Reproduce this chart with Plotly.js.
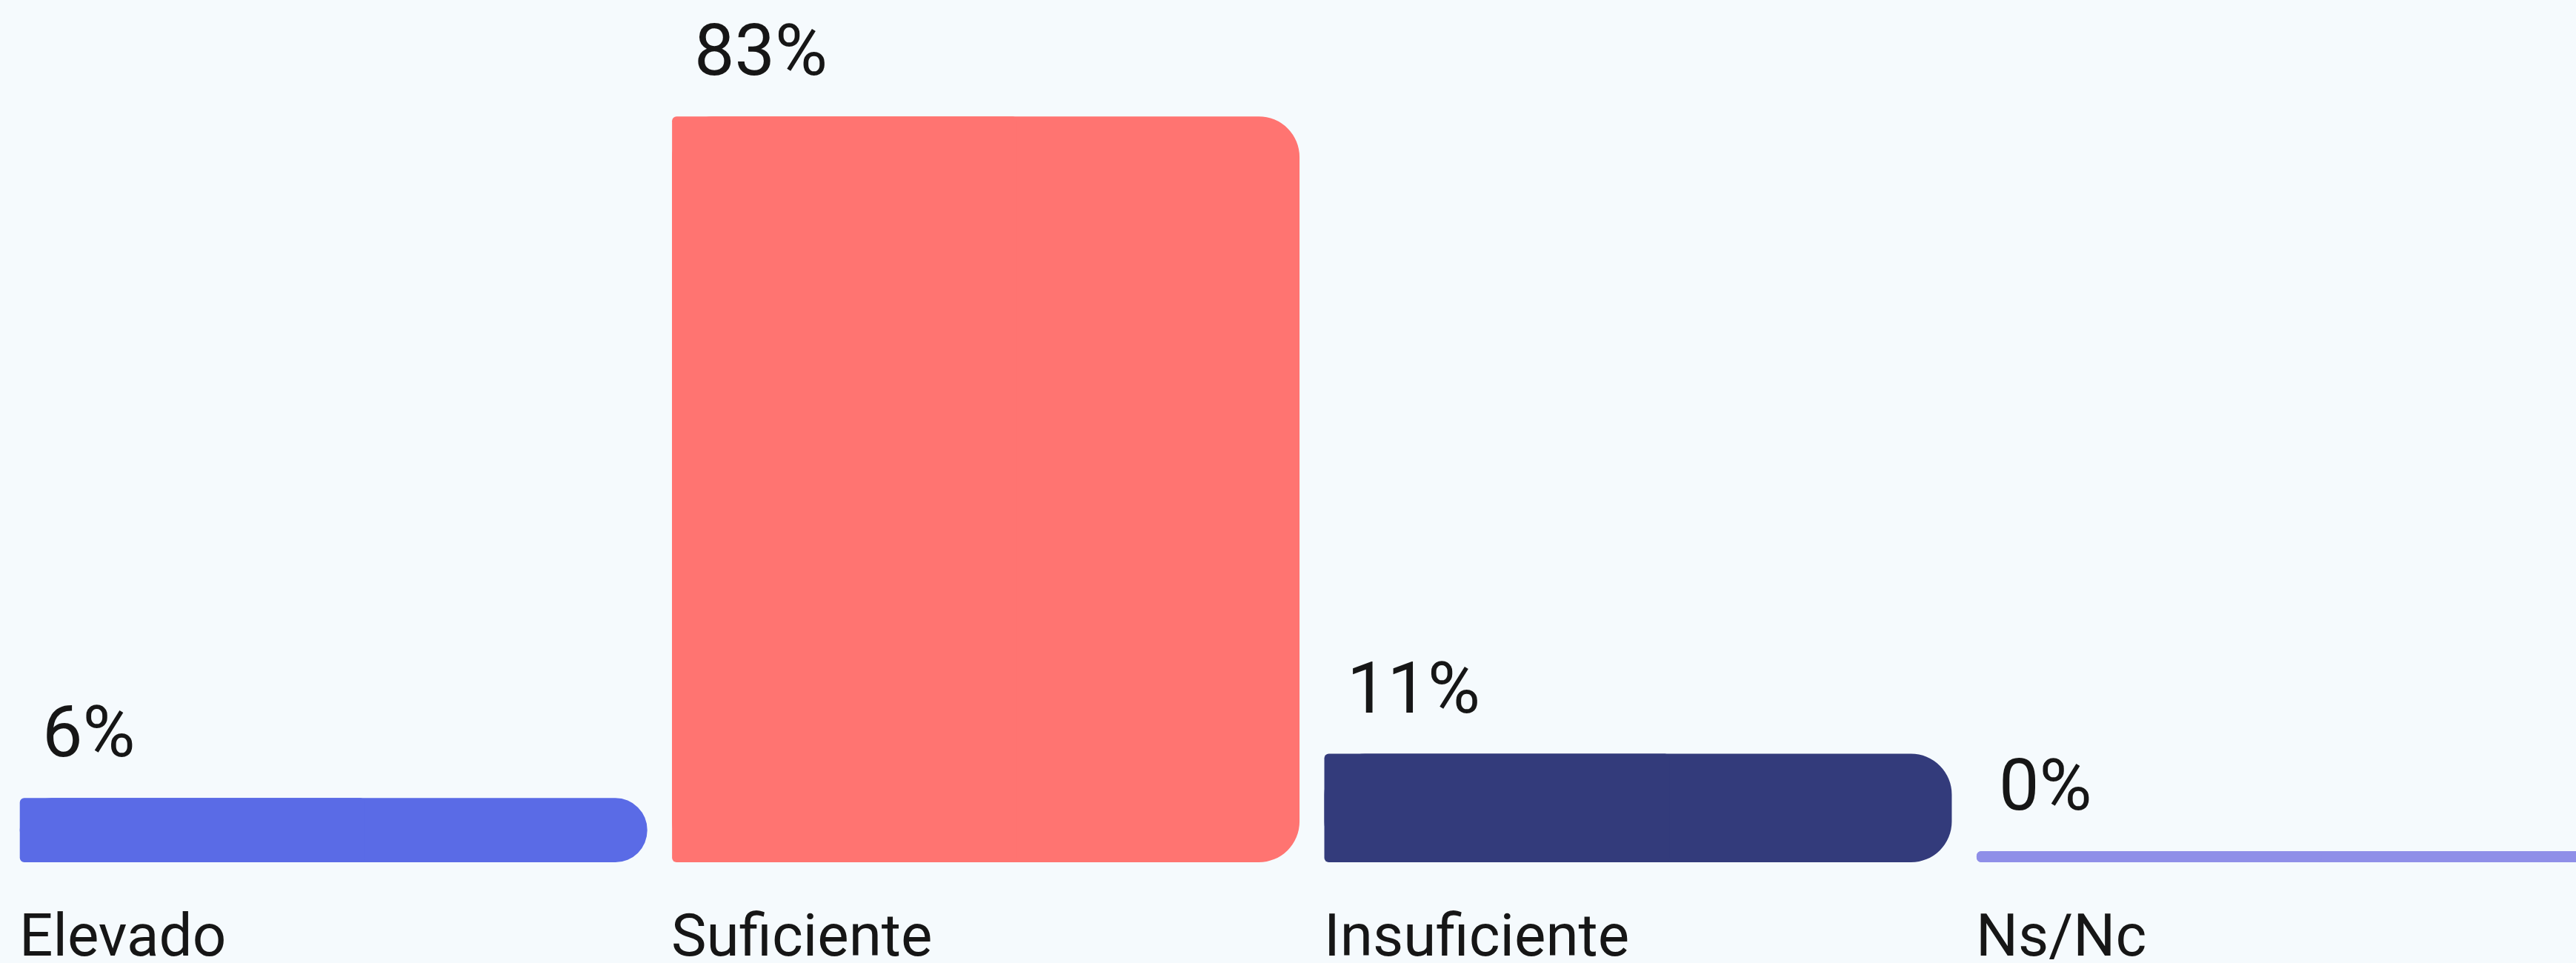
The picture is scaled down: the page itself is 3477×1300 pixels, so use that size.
<!DOCTYPE html>
<html><head><meta charset="utf-8">
<script src="https://cdn.plot.ly/plotly-3.0.1.min.js"></script>
<style>html,body{margin:0;padding:0;background:#F5FAFD;overflow:hidden;} #chart{width:3477px;height:1300px;}</style>
</head><body><div id="chart"></div>
<script>
// ---- data ----
const categories = ['Elevado', 'Suficiente', 'Insuficiente', 'Ns/Nc'];
const values = [6, 83, 11, 0];
const valueLabels = ['6%', '83%', '11%', '0%'];
const barColors = ['#5A6BE6', '#FF7471', '#333B7B', '#8F8FE8'];

// ---- layout settings ----
const W = 3477, H = 1300;
const margin = {l: 10, r: 0, t: 0, b: 136, pad: 0};
const xRange = [-0.5, 3.438];
const yBase = -1.255;          // small stub so that 0% bars remain visible
const yRange = [yBase, 96.15];
const barWidth = 0.962;
const pxPerCat = (W - margin.l - margin.r) / (xRange[1] - xRange[0]);
const halfBarPx = barWidth * pxPerCat / 2;
const FONT = 'Roboto, "Liberation Sans", sans-serif';
const TEXT = '#161616';

const common = {
  type: 'bar',
  x: categories,
  y: values.map(v => v - yBase),
  base: yBase,
  marker: {color: barColors, line: {width: 0}},
  hoverinfo: 'skip',
  showlegend: false
};
// full bar with a large rounded top (right corner visible)
const traceRound = Object.assign({}, common, {
  width: barWidth, offset: -barWidth / 2,
  marker: {color: barColors, line: {width: 0}, cornerradius: 55}
});
// left part of the bar with a nearly square top-left corner
const traceSquare = Object.assign({}, common, {
  width: barWidth * 0.55, offset: -barWidth / 2,
  marker: {color: barColors, line: {width: 0}, cornerradius: 6}
});

const annotations = [];
categories.forEach((c, i) => {
  annotations.push({
    x: c, xref: 'x', y: values[i], yref: 'y',
    text: valueLabels[i], showarrow: false,
    xanchor: 'left', yanchor: 'bottom',
    xshift: -halfBarPx + 28, yshift: 30,
    font: {family: FONT, size: 97, color: TEXT}
  });
  annotations.push({
    x: c, xref: 'x', y: 0, yref: 'paper',
    text: categories[i], showarrow: false,
    xanchor: 'left', yanchor: 'top',
    xshift: -halfBarPx - 3, yshift: -50,
    font: {family: FONT, size: 80, color: TEXT}
  });
});

const layout = {
  width: W, height: H,
  margin: margin,
  paper_bgcolor: '#F5FAFD',
  plot_bgcolor: '#F5FAFD',
  barmode: 'overlay',
  showlegend: false,
  xaxis: {type: 'category', range: xRange, showgrid: false, zeroline: false,
          showticklabels: false, showline: false, ticks: '', fixedrange: true},
  yaxis: {range: yRange, showgrid: false, zeroline: false,
          showticklabels: false, showline: false, ticks: '', fixedrange: true},
  annotations: annotations,
  font: {family: FONT, color: TEXT}
};

Plotly.newPlot('chart', [traceRound, traceSquare], layout, {staticPlot: true, displayModeBar: false});
</script>
</body></html>
